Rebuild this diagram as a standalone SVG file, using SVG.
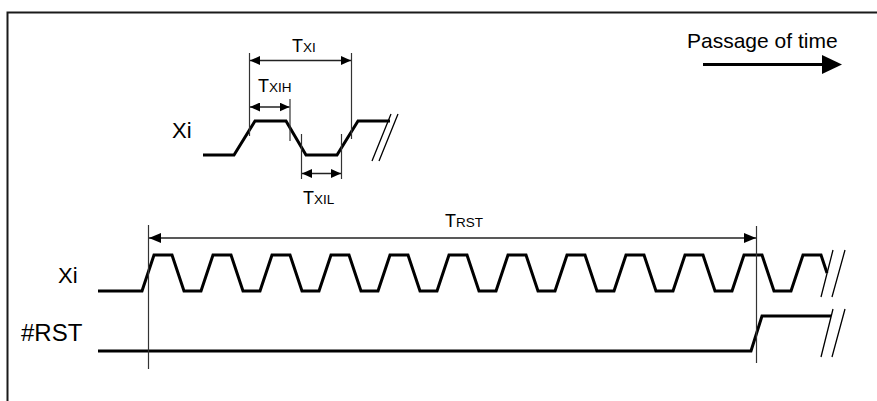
<svg xmlns="http://www.w3.org/2000/svg" width="877" height="401" viewBox="0 0 877 401">
<style>
.frame{fill:none;stroke:#1a1a1a;stroke-width:2}
.wave{fill:none;stroke:#000;stroke-width:3;stroke-linejoin:miter}
.guide{fill:none;stroke:#333;stroke-width:1.2}
.dim{fill:none;stroke:#222;stroke-width:1.3}
.brk{fill:none;stroke:#000;stroke-width:1.3}
.lbl{font-family:"Liberation Sans",Arial,sans-serif;fill:#000}
</style>
<defs>
<marker id="ah" viewBox="0 0 12 10" refX="12" refY="5" markerWidth="12" markerHeight="10" markerUnits="userSpaceOnUse" orient="auto-start-reverse">
<path d="M0,0 L12,5 L0,10 Z" fill="#000"/>
</marker>
<marker id="ahs" viewBox="0 0 10 9" refX="10" refY="4.5" markerWidth="10" markerHeight="9" markerUnits="userSpaceOnUse" orient="auto-start-reverse">
<path d="M0,0 L10,4.5 L0,9 Z" fill="#000"/>
</marker>
</defs>
<rect width="877" height="401" fill="#fff"/>
<path class="frame" d="M7.5,401 V12.5 H877"/>

<g id="time-arrow">
<text class="lbl" x="687" y="48" font-size="21">Passage of time</text>
<line x1="703" y1="64.5" x2="824" y2="64.5" stroke="#000" stroke-width="3"/>
<path d="M822,55 L842,64.5 L822,74 Z" fill="#000"/>
</g>

<g id="xi-top">
<text class="lbl" x="172" y="138" font-size="22">Xi</text>
<path class="wave" d="M203,155 H234 L255,121 H286 L306,155 H337 L358,121 H390"/>
<path class="brk" d="M372,161 L391,114 M379,161 L398,114"/>
</g>

<g id="xi-bottom">
<text class="lbl" x="58" y="283" font-size="22">Xi</text>
<path class="wave" d="M98,291 H142 L154,255 H172 L184,291 H201 L213,255 H231 L243,291 H260 L272,255 H290 L302,291 H319 L331,255 H349 L361,291 H378 L390,255 H408 L420,291 H437 L449,255 H467 L479,291 H496 L508,255 H526 L538,291 H555 L567,255 H585 L597,291 H614 L626,255 H644 L656,291 H673 L685,255 H703 L715,291 H732 L744,255 H762 L774,291 H791 L803,255 H821 L827,273"/>
<path class="brk" d="M821,297 L833,250 M832,297 L845,250"/>
</g>

<g id="rst">
<text class="lbl" x="21" y="341" font-size="24">#RST</text>
<path class="wave" d="M98,351 H751 L762,316 H831"/>
<path class="brk" d="M821,357 L833,309 M832,357 L845,309"/>
</g>

<g id="connectors">
<line class="guide" x1="249.5" y1="53" x2="249.5" y2="136"/>
<line class="guide" x1="351.5" y1="53" x2="351.5" y2="139"/>
<line class="guide" x1="290" y1="99" x2="290" y2="141"/>
<line class="guide" x1="301.5" y1="134" x2="301.5" y2="179"/>
<line class="guide" x1="341.5" y1="134" x2="341.5" y2="179"/>
<line class="guide" x1="148.5" y1="225" x2="148.5" y2="369"/>
<line class="guide" x1="756.5" y1="226" x2="756.5" y2="363"/>
<line class="dim" x1="250" y1="60.5" x2="351" y2="60.5" marker-start="url(#ahs)" marker-end="url(#ahs)"/>
<line class="dim" x1="250" y1="107" x2="289.5" y2="107" marker-start="url(#ahs)" marker-end="url(#ahs)"/>
<line class="dim" x1="302" y1="173.5" x2="341" y2="173.5" marker-start="url(#ahs)" marker-end="url(#ahs)"/>
<line class="dim" x1="149" y1="238" x2="756" y2="238" marker-start="url(#ah)" marker-end="url(#ah)"/>
</g>

<g id="labels">
<text class="lbl" x="292" y="51.5"><tspan font-size="18">T</tspan><tspan font-size="13.5">XI</tspan></text>
<text class="lbl" x="258" y="91.5"><tspan font-size="18">T</tspan><tspan font-size="13.5">XIH</tspan></text>
<text class="lbl" x="303" y="204"><tspan font-size="18">T</tspan><tspan font-size="13.5">XIL</tspan></text>
<text class="lbl" x="445" y="227"><tspan font-size="18">T</tspan><tspan font-size="13.5">RST</tspan></text>
</g>
</svg>
